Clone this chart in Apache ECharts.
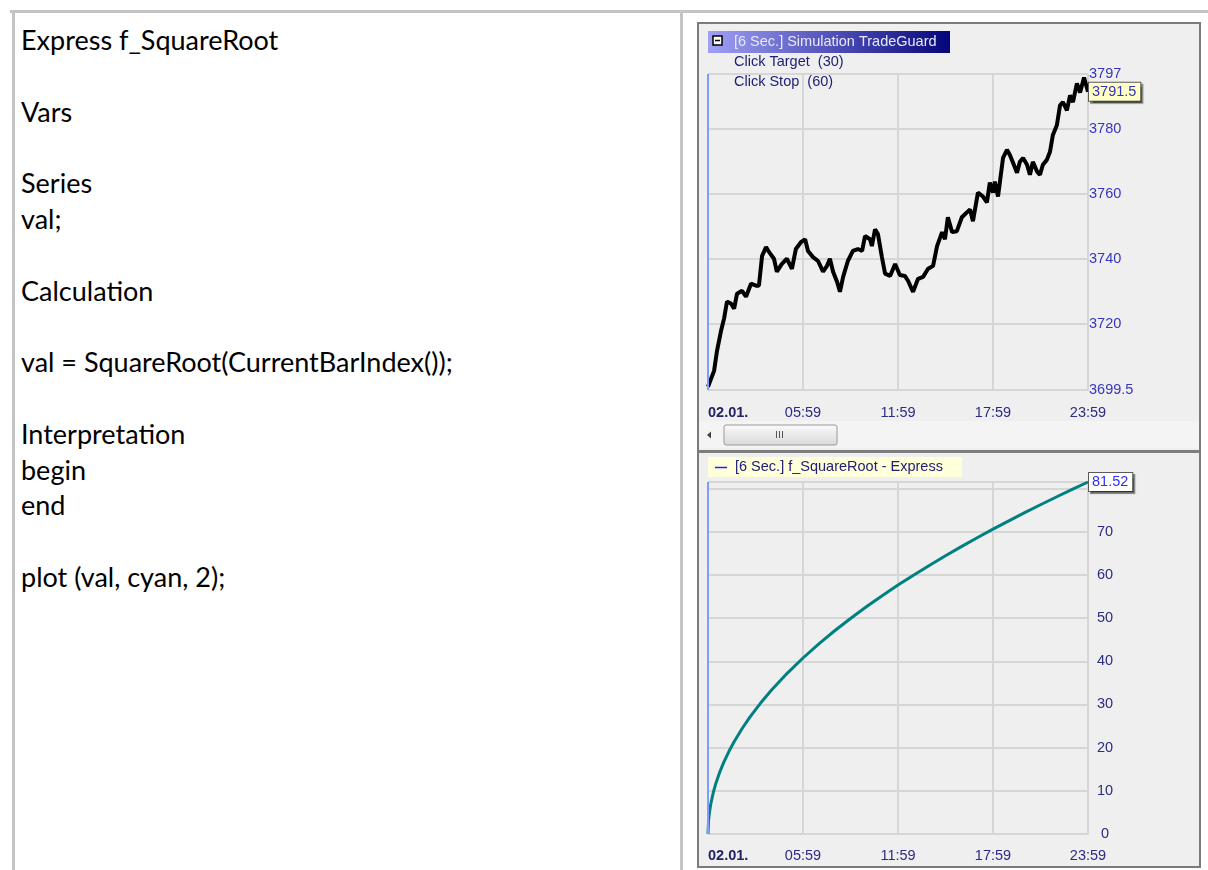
<!DOCTYPE html>
<html>
<head>
<meta charset="utf-8">
<script src="https://cdn.jsdelivr.net/npm/echarts@6/dist/echarts.min.js"></script>
<style>
  body { margin: 0; background: #fff; width: 1208px; height: 870px; position: relative; overflow: hidden; }
  .rule { position: absolute; background: #c4c4c4; }
  #code { position: absolute; left: 21px; top: 22px; font-family: Lato, "Open Sans", sans-serif;
          font-size: 27px; line-height: 35.8px; color: #000; white-space: pre; }
  #panel { position: absolute; left: 697px; top: 22px; width: 500px; height: 842px;
           border: 2px solid #7b7b7b; background: #efefef; }
  #chart { position: absolute; left: 699px; top: 24px; width: 500px; height: 842px; }
</style>
</head>
<body>
<div class="rule" style="left:10px;top:10px;width:1198px;height:3px"></div>
<div class="rule" style="left:12px;top:10px;width:3px;height:860px"></div>
<div class="rule" style="left:680px;top:10px;width:3px;height:860px"></div>
<div id="code"></div>
<div id="panel"></div>
<div id="chart"></div>
<script>
const codeLines = ["Express f_SquareRoot", "", "Vars", "", "Series", "val;", "", "Calculation", "",
  "val = SquareRoot(CurrentBarIndex());", "", "Interpretation", "begin", "end", "", "plot (val, cyan, 2);"];

// x axis: minutes after midnight (+1), so 05:59 sits on 360
const timeTicks = [0, 360, 720, 1080, 1440];
const timeLabels = ["02.01.", "05:59", "11:59", "17:59", "23:59"];

const priceMinutes = [0, 4, 23, 34, 49, 61, 72, 87, 99, 110, 129, 144, 163, 182, 193, 205, 220, 231, 250, 261,
  280, 299, 318, 333, 352, 368, 379, 398, 417, 436, 451, 462, 474, 489, 500, 512, 530, 549, 568, 584,
  595, 614, 621, 633, 644, 659, 671, 690, 709, 727, 746, 758, 777, 796, 815, 834, 853, 868, 887, 898,
  909, 925, 943, 962, 981, 993, 1004, 1023, 1042, 1057, 1068, 1080, 1087, 1099, 1118, 1133, 1144, 1156, 1171, 1182,
  1194, 1209, 1220, 1231, 1247, 1258, 1269, 1284, 1296, 1307, 1322, 1334, 1345, 1360, 1372, 1383, 1398, 1410, 1425, 1440];
const priceValues = [3700.5, 3700.8, 3705.4, 3711.5, 3717.6, 3721.6, 3726.8, 3726.2, 3724.6, 3729.2, 3730.1, 3728.3, 3732.3, 3731.7, 3731.7, 3740.9, 3743.6, 3742.1, 3740.0, 3736.0,
  3738.4, 3740.0, 3736.9, 3743.0, 3745.1, 3746.0, 3742.4, 3740.5, 3739.3, 3736.0, 3737.8, 3740.0, 3736.0, 3732.9, 3729.8, 3734.4, 3739.3, 3742.4, 3743.0, 3742.4,
  3747.0, 3746.0, 3743.9, 3749.1, 3747.6, 3740.5, 3735.4, 3734.7, 3738.4, 3735.0, 3734.7, 3733.2, 3729.8, 3733.8, 3734.4, 3736.9, 3737.8, 3743.9, 3748.2, 3746.0,
  3752.8, 3748.2, 3748.5, 3752.8, 3754.3, 3755.2, 3751.6, 3760.4, 3759.2, 3757.4, 3763.5, 3760.4, 3763.8, 3759.2, 3771.1, 3773.6, 3772.0, 3769.6, 3766.5, 3769.9,
  3771.1, 3769.0, 3765.9, 3769.9, 3766.9, 3765.9, 3769.0, 3770.5, 3773.0, 3778.2, 3781.2, 3787.3, 3788.3, 3785.8, 3790.4, 3788.3, 3794.1, 3791.3, 3795.9, 3791.5];
const priceTicks = [3699.5, 3720, 3740, 3760, 3780, 3797];
const priceLast = 3791.5;

const sqrtMinutes = [0, 2, 5, 10, 20, 30, 45, 60, 80, 100, 130, 160, 200, 240, 300, 360, 420, 480, 540, 600,
  660, 720, 780, 840, 900, 960, 1020, 1080, 1140, 1200, 1260, 1320, 1380, 1440];
const sqrtValues = [0, 3.04, 4.8, 6.79, 9.61, 11.77, 14.41, 16.64, 19.21, 21.48, 24.49, 27.17, 30.38, 33.28, 37.21, 40.76, 44.03, 47.07, 49.92, 52.62,
  55.19, 57.64, 60.0, 62.26, 64.45, 66.56, 68.61, 70.6, 72.53, 74.42, 76.25, 78.05, 79.8, 81.52];
const sqrtLabelTicks = [0, 10, 20, 30, 40, 50, 60, 70];
const sqrtLast = 81.52;

document.getElementById("code").textContent = codeLines.join("\n");

const FONT = "Liberation Sans";
const FS = 14.5;
const grid1 = { left: 9, top: 50, width: 380, height: 316 };
const grid2 = { left: 9, top: 458, width: 380, height: 352 };
const gridLine = { color: "#d6d6d6", width: 2 };

const xAxisOf = (gridIndex, margin) => ({
  type: "value", gridIndex, min: 0, max: 1440, interval: 360,
  axisLine: { show: true, lineStyle: gridLine },
  axisTick: { show: false },
  splitLine: { show: true, lineStyle: gridLine },
  axisLabel: {
    margin, fontFamily: FONT, fontSize: FS, color: "#2c2a88", alignMinLabel: "left",
    formatter: v => {
      const i = timeTicks.indexOf(v);
      if (i < 0) return "";
      return i === 0 ? "{b|" + timeLabels[0] + "}" : timeLabels[i];
    },
    rich: { b: { fontFamily: FONT, fontSize: FS, fontWeight: "bold", color: "#222266" } }
  }
});

const valueBox = (text, color, bg) => ({
  show: true, position: "end", distance: 1, formatter: text,
  fontFamily: FONT, fontSize: FS, color, backgroundColor: bg,
  borderColor: "#5a5a5a", borderWidth: 1, padding: [2, 4, 1, 3],
  shadowColor: "rgba(0,0,0,0.45)", shadowOffsetX: 2, shadowOffsetY: 2, shadowBlur: 1
});

const blueEdge = { xAxis: 0, lineStyle: { color: "#7f9cff", width: 2, type: "solid" }, label: { show: false } };
const hidden = { color: "rgba(0,0,0,0)", width: 1, type: "solid" };

const chart = echarts.init(document.getElementById("chart"));
chart.setOption({
  animation: false,
  grid: [grid1, grid2],
  xAxis: [xAxisOf(0, 15), xAxisOf(1, 14)],
  yAxis: [
    {
      type: "value", gridIndex: 0, position: "right", min: 3699.5, max: 3797,
      axisLine: { show: false },
      axisTick: { show: false, customValues: priceTicks },
      splitLine: { show: true, lineStyle: gridLine },
      axisLabel: { customValues: priceTicks, margin: 1, fontFamily: FONT, fontSize: FS, color: "#3636c0",
        formatter: v => String(v) }
    },
    {
      type: "value", gridIndex: 1, position: "right", min: 0, max: sqrtLast, interval: 10,
      axisLine: { show: false },
      axisTick: { show: false },
      splitLine: { show: true, lineStyle: gridLine },
      axisLabel: {
        margin: 17, align: "center", fontFamily: FONT, fontSize: FS, color: "#2c2c80",
        formatter: v => (sqrtLabelTicks.includes(v) ? String(v) : "")
      }
    }
  ],
  series: [
    {
      type: "line", xAxisIndex: 0, yAxisIndex: 0, showSymbol: false,
      data: priceMinutes.map((m, i) => [m, priceValues[i]]),
      lineStyle: { color: "#000", width: 4 },
      markLine: {
        silent: true, symbol: "none",
        data: [blueEdge, { yAxis: priceLast, lineStyle: hidden, label: valueBox(String(priceLast), "#3434c4", "#ffffc6") }]
      }
    },
    {
      type: "line", xAxisIndex: 1, yAxisIndex: 1, showSymbol: false,
      data: sqrtMinutes.map((m, i) => [m, sqrtValues[i]]),
      lineStyle: { color: "#008080", width: 3 },
      markLine: {
        silent: true, symbol: "none",
        data: [blueEdge, { yAxis: sqrtLast, lineStyle: hidden, label: valueBox(String(sqrtLast), "#2e2eff", "#ffffff") }]
      }
    }
  ],
  graphic: [
    // upper panel header
    { type: "rect", shape: { x: 9, y: 7, width: 242, height: 22 }, z: 10,
      style: { fill: new echarts.graphic.LinearGradient(0, 0, 1, 0, [{ offset: 0, color: "#a0a0f6" }, { offset: 1, color: "#05057c" }]) } },
    { type: "rect", shape: { x: 14, y: 12, width: 9, height: 9 }, z: 11, style: { fill: "#fff", stroke: "#000", lineWidth: 1.5 } },
    { type: "line", shape: { x1: 16, y1: 16.5, x2: 21, y2: 16.5 }, z: 12, style: { stroke: "#000", lineWidth: 1.5 } },
    { type: "text", x: 35, y: 18, z: 11, style: { text: "[6 Sec.] Simulation TradeGuard", fill: "#e8e8f8", font: FS + "px " + FONT, verticalAlign: "middle" } },
    { type: "text", x: 35, y: 38, z: 11, style: { text: "Click Target  (30)", fill: "#20207a", font: FS + "px " + FONT, verticalAlign: "middle" } },
    { type: "text", x: 35, y: 58, z: 11, style: { text: "Click Stop  (60)", fill: "#20207a", font: FS + "px " + FONT, verticalAlign: "middle" } },
    // scroll bar
    { type: "rect", shape: { x: 0, y: 397, width: 500, height: 27 }, z: 1, style: { fill: "#f4f4f4" } },
    { type: "polygon", shape: { points: [[8, 411], [12, 407.5], [12, 414.5]] }, z: 2, style: { fill: "#404040" } },
    { type: "rect", shape: { x: 25, y: 401, width: 113, height: 20, r: 2 }, z: 2,
      style: { fill: new echarts.graphic.LinearGradient(0, 0, 0, 1, [{ offset: 0, color: "#fbfbfb" }, { offset: 1, color: "#d8d8d8" }]), stroke: "#9a9a9a", lineWidth: 1 } },
    { type: "line", shape: { x1: 77.5, y1: 407, x2: 77.5, y2: 414 }, z: 3, style: { stroke: "#555", lineWidth: 1 } },
    { type: "line", shape: { x1: 80.5, y1: 407, x2: 80.5, y2: 414 }, z: 3, style: { stroke: "#555", lineWidth: 1 } },
    { type: "line", shape: { x1: 83.5, y1: 407, x2: 83.5, y2: 414 }, z: 3, style: { stroke: "#555", lineWidth: 1 } },
    // divider between panels
    { type: "rect", shape: { x: 0, y: 426, width: 500, height: 3 }, z: 3, style: { fill: "#7d7d7d" } },
    // lower panel legend
    { type: "rect", shape: { x: 9, y: 433, width: 254, height: 20 }, z: 10, style: { fill: "#ffffda" } },
    { type: "line", shape: { x1: 16, y1: 443.5, x2: 28, y2: 443.5 }, z: 11, style: { stroke: "#2020ff", lineWidth: 1.5 } },
    { type: "text", x: 36, y: 443, z: 11, style: { text: "[6 Sec.] f_SquareRoot - Express", fill: "#20207a", font: FS + "px " + FONT, verticalAlign: "middle" } }
  ]
});
</script>
</body>
</html>
